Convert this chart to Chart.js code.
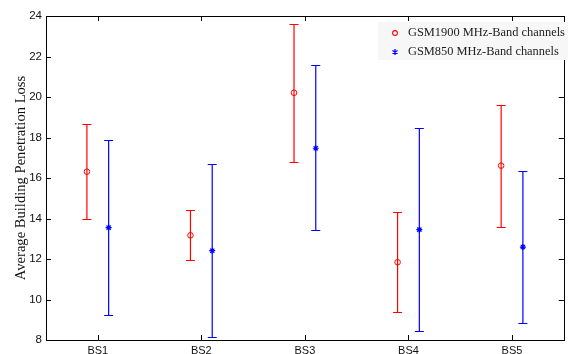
<!DOCTYPE html>
<html>
<head>
<meta charset="utf-8">
<script src="https://cdn.jsdelivr.net/npm/chart.js@4.4.1/dist/chart.umd.min.js"></script>
<style>
  body { margin: 0; background: #fff; }
  #wrap { position: relative; width: 569px; height: 354px; }
  #legend {
    position: absolute; left: 378px; top: 22px; width: 190px; height: 38px;
    background: #f7f7f7; font-family: 'Liberation Serif', serif; font-size: 12.4px; color: #222;
  }
  #legend div { position: absolute; left: 13px; height: 19px; line-height: 19px; white-space: nowrap; }
  #legend svg { vertical-align: middle; margin-right: 9px; }
</style>
</head>
<body>
<div id="wrap">
  <canvas id="chart" width="569" height="354"></canvas>
  <div id="legend">
    <div style="top:1px"><svg width="8" height="8"><circle cx="4" cy="4" r="2.4" fill="none" stroke="red" stroke-width="1.1"/></svg>GSM1900 MHz-Band channels</div>
    <div style="top:20px"><svg width="8" height="8"><path d="M4 1V7M1.4 2.5L6.6 5.5M6.6 2.5L1.4 5.5" stroke="blue" stroke-width="1.3"/></svg>GSM850 MHz-Band channels</div>
  </div>
</div>
<script>
const categories = ['BS1', 'BS2', 'BS3', 'BS4', 'BS5'];
const yTicks = [8, 10, 12, 14, 16, 18, 20, 22, 24];

// GSM1900 (red circles)
const gsm1900Mean = [16.31, 13.17, 20.21, 11.84, 16.61];
const gsm1900Low  = [13.96, 11.95, 16.77, 9.38, 13.6];
const gsm1900High = [18.68, 14.4, 23.6, 14.32, 19.6];

// GSM850 (blue stars)
const gsm850Mean = [13.55, 12.41, 17.47, 13.45, 12.59];
const gsm850Low  = [9.23, 8.16, 13.42, 8.46, 8.85];
const gsm850High = [17.86, 16.67, 21.6, 18.47, 16.35];

const shift = 0.105;

// error bars + inward ticks + frame
const errPlugin = {
  id: 'errbars',
  beforeDatasetsDraw(chart) {
    const ctx = chart.ctx;
    const xs = chart.scales.x, ys = chart.scales.y;
    const bars = [
      [gsm1900Low, gsm1900High, -shift, '#ff0000'],
      [gsm850Low, gsm850High, shift, '#0000ff']
    ];
    ctx.save();
    bars.forEach(([lo, hi, off, col]) => {
      for (let i = 0; i < categories.length; i++) {
        const x = xs.getPixelForValue(i + 1 + off);
        const y1 = Math.round(ys.getPixelForValue(lo[i])) + 0.5;
        const y2 = Math.round(ys.getPixelForValue(hi[i])) + 0.5;
        ctx.strokeStyle = col;
        ctx.lineWidth = 1.2;
        ctx.beginPath();
        ctx.moveTo(x, y1); ctx.lineTo(x, y2);
        ctx.moveTo(x - 4.5, y1); ctx.lineTo(x + 4.5, y1);
        ctx.moveTo(x - 4.5, y2); ctx.lineTo(x + 4.5, y2);
        ctx.stroke();
      }
    });
    ctx.restore();
  },
  afterDraw(chart) {
    const ctx = chart.ctx;
    const a = chart.chartArea;
    const xs = chart.scales.x, ys = chart.scales.y;
    ctx.save();
    ctx.strokeStyle = '#000';
    ctx.lineWidth = 1;
    ctx.strokeRect(Math.round(a.left) + 0.5, Math.round(a.top) + 0.5,
      Math.round(a.right - a.left), Math.round(a.bottom - a.top));
    ctx.beginPath();
    categories.forEach((c, i) => {
      const x = Math.round(xs.getPixelForValue(i + 1)) + 0.5;
      ctx.moveTo(x, a.bottom); ctx.lineTo(x, a.bottom - 5);
      ctx.moveTo(x, a.top); ctx.lineTo(x, a.top + 5);
    });
    yTicks.forEach(v => {
      const y = Math.round(ys.getPixelForValue(v)) + 0.5;
      ctx.moveTo(a.left, y); ctx.lineTo(a.left + 5, y);
      ctx.moveTo(a.right, y); ctx.lineTo(a.right - 5, y);
    });
    ctx.stroke();
    ctx.restore();
  }
};

new Chart(document.getElementById('chart'), {
  type: 'scatter',
  data: {
    datasets: [
      {
        label: 'GSM1900 MHz-Band channels',
        data: gsm1900Mean.map((v, i) => ({ x: i + 1 - shift, y: v })),
        pointStyle: 'circle',
        pointRadius: 2.8,
        borderColor: '#ff0000',
        backgroundColor: 'rgba(0,0,0,0)',
        borderWidth: 1
      },
      {
        label: 'GSM850 MHz-Band channels',
        data: gsm850Mean.map((v, i) => ({ x: i + 1 + shift, y: v })),
        pointStyle: 'star',
        pointRadius: 3,
        borderColor: '#0000ff',
        backgroundColor: '#0000ff',
        borderWidth: 1.2
      }
    ]
  },
  options: {
    responsive: false,
    animation: false,
    events: [],
    layout: { padding: { top: 16, right: 2, left: 0, bottom: 0 } },
    plugins: { legend: { display: false }, tooltip: { enabled: false } },
    scales: {
      x: {
        type: 'linear',
        min: 0.5, max: 5.5,
        afterBuildTicks: s => { s.ticks = categories.map((c, i) => ({ value: i + 1 })); },
        afterFit: s => { s.height = 14; },
        grid: { display: false, drawTicks: false },
        border: { display: false },
        ticks: {
          padding: 4,
          color: '#111',
          font: { family: 'Liberation Sans', size: 11 },
          callback: v => categories[v - 1]
        }
      },
      y: {
        min: 8, max: 24,
        afterBuildTicks: s => { s.ticks = yTicks.map(v => ({ value: v })); },
        afterFit: s => { s.width = 46; },
        grid: { display: false, drawTicks: false },
        border: { display: false },
        ticks: {
          padding: 4,
          color: '#111',
          font: { family: 'Liberation Sans', size: 11.5 }
        },
        title: {
          display: true,
          text: 'Average Building Penetration Loss',
          color: '#111',
          font: { family: 'Liberation Serif', size: 14.6 },
          padding: { top: 12, bottom: 0 }
        }
      }
    }
  },
  plugins: [errPlugin]
});
</script>
</body>
</html>
